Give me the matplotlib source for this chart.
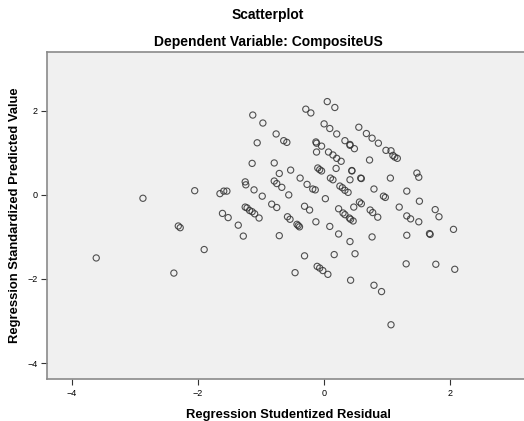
import numpy as np
import matplotlib
matplotlib.use("Agg")
from matplotlib import pyplot as plt

plt.rcParams['font.family'] = ['Liberation Sans', 'DejaVu Sans']

# studentized residual (x) / standardized predicted value (y)
resid = [0.05, 0.17, -0.29, -0.21, -1.13, -0.97, 0.00, 0.09, 0.55, 0.67, 0.76, 0.86,
         0.20, -0.76, -0.64, -0.59, -1.06, -0.13, -0.12, -0.04, 0.33, 0.41, 0.41, 0.48,
         0.98, 1.06, 1.09, 1.12, 1.16, -0.12, 0.07, 0.14, 0.20, 0.27, 0.72,
         -1.14, -0.79, -0.71, -0.53, -0.10, -0.07, -0.04, 0.19, 0.44, 0.44,
         -0.38, 0.10, 0.14, 0.41, 0.58, 0.59, 1.05,
         -1.25, -1.24, -0.79, -0.75, -0.67, -1.11, -0.27, -0.18, -0.14, 0.25, 0.29, 0.33, 0.38, 0.79,
         -0.56, -0.98, -1.65, -1.59, -1.54, 0.02, 0.94, 0.97, 1.19,
         -0.83, -0.75, -1.25, -1.22, -1.18, -1.14, -1.10, -1.03, -0.31, -0.23,
         0.23, 0.30, 0.33, 0.40, 0.42, 0.46, 0.47, 0.56, 0.59, 0.73, 0.77, 0.85,
         -1.61, -1.52, -0.58, -0.54, -0.43, -0.41, -0.39, -0.13, 0.09,
         -1.36, -1.28, -0.71, 0.23, 0.41, 0.76, -1.90, -0.31, 0.16, 0.49,
         1.47, 1.50, 1.31, 1.51, 1.76, 1.82, 1.31, 1.37, 1.50, 1.31, 1.67, 1.68, 2.05,
         1.30, 1.77, 2.07, -0.11, -0.07, -0.02, 0.06, 0.42, 0.79, 0.91, 1.06, -0.46,
         -3.61, -2.38, -2.87, -2.05, -2.31, -2.28]
pred = [2.22, 2.08, 2.04, 1.95, 1.90, 1.71, 1.69, 1.58, 1.61, 1.46, 1.35, 1.23,
        1.45, 1.45, 1.29, 1.25, 1.24, 1.26, 1.23, 1.16, 1.29, 1.20, 1.18, 1.10,
        1.06, 1.05, 0.94, 0.90, 0.87, 1.02, 1.02, 0.95, 0.87, 0.80, 0.83,
        0.75, 0.76, 0.51, 0.59, 0.64, 0.60, 0.57, 0.63, 0.58, 0.57,
        0.40, 0.40, 0.36, 0.36, 0.40, 0.39, 0.40,
        0.31, 0.24, 0.33, 0.27, 0.18, 0.12, 0.25, 0.14, 0.12, 0.21, 0.17, 0.11, 0.06, 0.14,
        0.00, -0.03, 0.03, 0.09, 0.09, -0.09, -0.03, -0.06, -0.29,
        -0.22, -0.30, -0.29, -0.31, -0.37, -0.40, -0.45, -0.55, -0.27, -0.36,
        -0.33, -0.43, -0.47, -0.55, -0.58, -0.62, -0.29, -0.17, -0.21, -0.36, -0.42, -0.53,
        -0.44, -0.54, -0.52, -0.58, -0.70, -0.73, -0.76, -0.64, -0.75,
        -0.72, -0.98, -0.97, -0.93, -1.11, -1.00, -1.30, -1.45, -1.42, -1.40,
        0.52, 0.42, 0.09, -0.15, -0.35, -0.52, -0.50, -0.57, -0.64, -0.96, -0.92, -0.94, -0.82,
        -1.64, -1.65, -1.77, -1.70, -1.74, -1.80, -1.89, -2.03, -2.15, -2.30, -3.09, -1.85,
        -1.50, -1.86, -0.08, 0.10, -0.74, -0.78]

xticks = [-4, -2, 0, 2]
yticks = [-4, -2, 0, 2]

fig = plt.figure(figsize=(5.24, 4.21), dpi=100)
ax = fig.add_axes([47/524, 1 - 379/421, 1 - 47/524 + 0.01, (379 - 52)/421])
ax.set_facecolor('#f0f0f0')

ax.scatter(resid, pred, s=20, facecolors='none', edgecolors='#333333',
           linewidths=0.8, alpha=0.85)

ax.set_xlim(-4.39, 3.25)
ax.set_ylim(-4.38, 3.4)
ax.set_xticks(xticks)
ax.set_yticks(yticks)
ax.tick_params(direction='out', length=4, width=0.8, color='#333333',
               labelsize=6.5, pad=3)
for s in ['left', 'bottom', 'top']:
    ax.spines[s].set_color('#8a8a8a')
    ax.spines[s].set_linewidth(1.2)
ax.spines['right'].set_visible(False)

ax.set_xlabel('Regression Studentized Residual', fontsize=9.4, fontweight='bold', labelpad=8)
ax.set_ylabel('Regression Standardized Predicted Value', fontsize=9.4, fontweight='bold', labelpad=4)

fig.text(268/524, 1 - 15/421, 'Scatterplot', ha='center', va='center',
         fontsize=10, fontweight='bold')
fig.text(268/524, 1 - 42/421, 'Dependent Variable: CompositeUS', ha='center', va='center',
         fontsize=10, fontweight='bold')

fig.savefig('out.png', dpi=100)
